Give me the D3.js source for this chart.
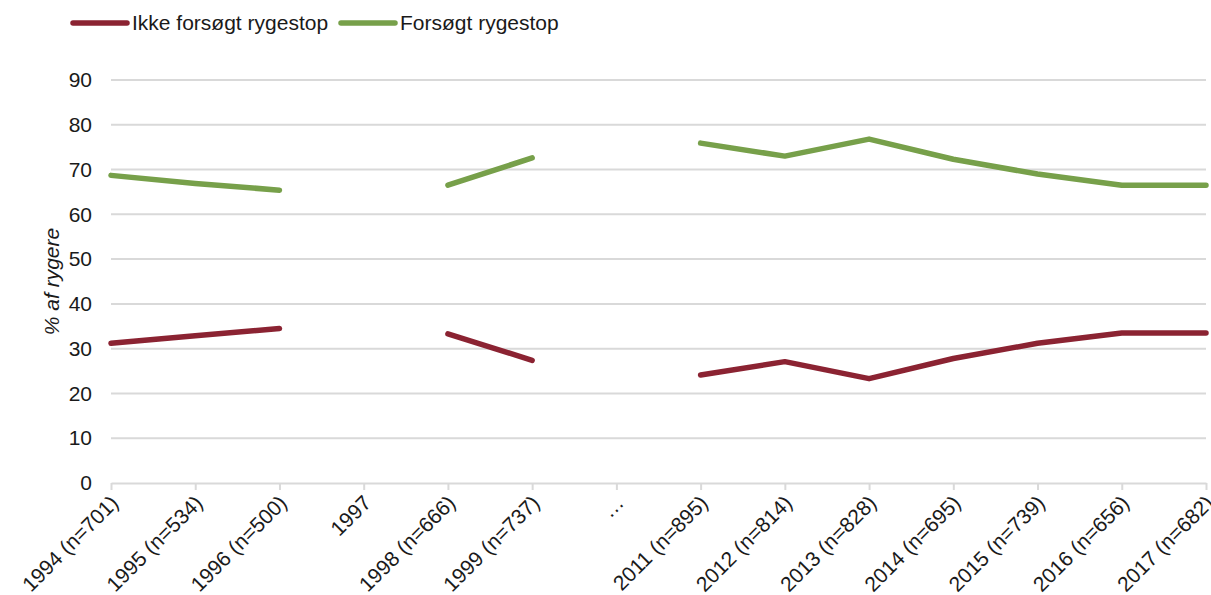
<!DOCTYPE html>
<html>
<head>
<meta charset="utf-8">
<script src="https://cdn.jsdelivr.net/npm/d3@7"></script>
<style>
  body { margin: 0; background: #fff; }
  svg { font-family: "Liberation Sans", Arial, sans-serif; }
</style>
</head>
<body>
<svg id="chart" width="1211" height="595"></svg>
<script>
const categories = ["1994 (n=701)", "1995 (n=534)", "1996 (n=500)", "1997", "1998 (n=666)", "1999 (n=737)", "…",
    "2011 (n=895)", "2012 (n=814)", "2013 (n=828)", "2014 (n=695)", "2015 (n=739)", "2016 (n=656)", "2017 (n=682)"];
const ikkeForsoegt = [31.2, 32.9, 34.5, null, 33.3, 27.4, null, 24.1, 27.1, 23.3, 27.8, 31.2, 33.5, 33.5];
const forsoegt = [68.7, 66.9, 65.4, null, 66.5, 72.6, null, 75.9, 73.0, 76.8, 72.3, 69.0, 66.5, 66.5];
const yTicks = [0, 10, 20, 30, 40, 50, 60, 70, 80, 90];

const series = [
    { name: "Ikke forsøgt rygestop", values: ikkeForsoegt, color: "#8b2332" },
    { name: "Forsøgt rygestop", values: forsoegt, color: "#77a04a" }
];

const svg = d3.select("#chart");
const plotLeft = 111, plotRight = 1206, plotTop = 80, plotBottom = 483;

const x = d3.scalePoint().domain(categories).range([plotLeft, plotRight]);
const y = d3.scaleLinear().domain([0, 90]).range([plotBottom, plotTop]);

// gridlines
svg.append("g")
    .selectAll("line")
    .data(yTicks.filter(d => d > 0))
    .enter()
    .append("line")
    .attr("x1", plotLeft).attr("x2", plotRight)
    .attr("y1", d => y(d)).attr("y2", d => y(d))
    .attr("stroke", "#d9d9d9")
    .attr("stroke-width", 2);

// y axis labels
const yAxis = svg.append("g")
    .attr("transform", "translate(" + plotLeft + ",0)")
    .call(d3.axisLeft(y).tickValues(yTicks).tickSize(0).tickPadding(19));
yAxis.select(".domain").remove();
yAxis.selectAll("text")
    .style("font-size", "21px")
    .style("fill", "#1a1a1a");

// x axis
const xAxis = svg.append("g")
    .attr("transform", "translate(0," + plotBottom + ")")
    .call(d3.axisBottom(x).tickSize(7).tickSizeOuter(0));
xAxis.select(".domain").attr("stroke", "#d9d9d9").attr("stroke-width", 2);
xAxis.selectAll(".tick line").attr("stroke", "#d9d9d9").attr("stroke-width", 2);
xAxis.selectAll("text")
    .style("font-size", "21px")
    .style("fill", "#1a1a1a")
    .attr("text-anchor", "end")
    .attr("dy", "0.35em")
    .attr("transform", "translate(3,16) rotate(-45)")
    .attr("x", 0).attr("y", 0);

// y axis title
svg.append("text")
    .text("% af rygere")
    .attr("transform", "translate(59," + (plotTop + plotBottom) / 2 + ") rotate(-90)")
    .attr("text-anchor", "middle")
    .style("font-style", "italic")
    .style("font-size", "21px")
    .style("fill", "#1a1a1a");

// lines
const line = d3.line()
    .defined(d => d.v !== null)
    .x(d => x(d.c))
    .y(d => y(d.v));

svg.append("g")
    .selectAll("path")
    .data(series)
    .enter()
    .append("path")
    .attr("d", s => line(s.values.map((v, i) => ({ c: categories[i], v: v }))))
    .attr("fill", "none")
    .attr("stroke", s => s.color)
    .attr("stroke-width", 5.5)
    .attr("stroke-linecap", "round")
    .attr("stroke-linejoin", "round");

// legend
const legendX = [73, 341];
const legend = svg.append("g")
    .selectAll("g")
    .data(series)
    .enter()
    .append("g")
    .attr("transform", (d, i) => "translate(" + legendX[i] + ",23)");
legend.append("line")
    .attr("x1", 0).attr("x2", 54)
    .attr("stroke", d => d.color)
    .attr("stroke-width", 5.5)
    .attr("stroke-linecap", "round");
legend.append("text")
    .text(d => d.name)
    .attr("x", 59)
    .attr("dy", "0.35em")
    .style("font-size", "21px")
    .style("fill", "#1a1a1a");
</script>
</body>
</html>
